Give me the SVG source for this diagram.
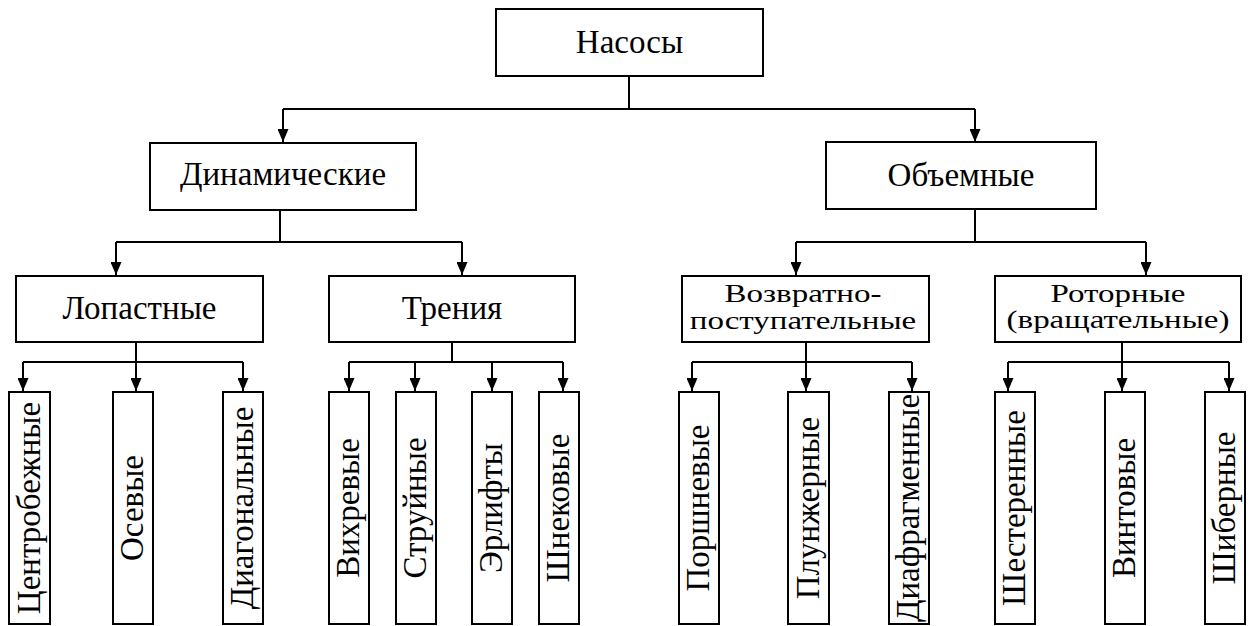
<svg xmlns="http://www.w3.org/2000/svg" width="1250" height="626" viewBox="0 0 1250 626">
<style>
.box{fill:#fff;stroke:#000;stroke-width:2}
.ln{fill:none;stroke:#000;stroke-width:2}
.ar{fill:none;stroke:#000;stroke-width:2;marker-end:url(#ah)}
text{font-family:'Times New Roman',Tinos,'Noto Serif','Liberation Serif','DejaVu Serif',serif;font-size:33px;fill:#000;text-anchor:middle}
</style>
<defs>
<marker id="ah" viewBox="0 0 13 11" refX="13" refY="5.5" markerWidth="13" markerHeight="11" markerUnits="userSpaceOnUse" orient="auto">
<path d="M0,0 L13,5.5 L0,11 z" fill="#000"/>
</marker>
</defs>
<rect width="1250" height="626" fill="#fff"/>
<g id="connectors">
<path class="ln" d="M629,76 V109 M283,109 H975"/>
<path class="ar" d="M283,109 V142"/>
<path class="ar" d="M975,109 V142"/>
<path class="ln" d="M280,210 V242 M116,242 H462"/>
<path class="ar" d="M116,242 V275"/>
<path class="ar" d="M462,242 V275"/>
<path class="ln" d="M975,209 V242 M796,242 H1146"/>
<path class="ar" d="M796,242 V275"/>
<path class="ar" d="M1146,242 V275"/>
<path class="ln" d="M136,342 V362 M23,362 H243"/>
<path class="ar" d="M23,362 V391"/>
<path class="ar" d="M136,362 V391"/>
<path class="ar" d="M243,362 V391"/>
<path class="ln" d="M452,342 V362 M349,362 H563"/>
<path class="ar" d="M349,362 V391"/>
<path class="ar" d="M415,362 V391"/>
<path class="ar" d="M492,362 V391"/>
<path class="ar" d="M563,362 V391"/>
<path class="ln" d="M806,342 V362 M692,362 H912"/>
<path class="ar" d="M692,362 V391"/>
<path class="ar" d="M806,362 V391"/>
<path class="ar" d="M912,362 V391"/>
<path class="ln" d="M1122,342 V362 M1008,362 H1229"/>
<path class="ar" d="M1008,362 V391"/>
<path class="ar" d="M1122,362 V391"/>
<path class="ar" d="M1229,362 V391"/>
</g>
<g id="n-nasosy"><rect class="box" x="496" y="9" width="267" height="67"/><text x="629.5" y="53">Насосы</text></g>
<g id="n-dinam"><rect class="box" x="150" y="143" width="266" height="67"/><text x="283" y="185">Динамические</text></g>
<g id="n-obem"><rect class="box" x="826" y="142" width="270" height="67"/><text x="961" y="186">Объемные</text></g>
<g id="n-lopast"><rect class="box" x="16" y="276" width="247" height="66"/><text x="139.5" y="319">Лопастные</text></g>
<g id="n-trenia"><rect class="box" x="329" y="276" width="246" height="66"/><text x="452" y="319">Трения</text></g>
<g id="n-vozvr"><rect class="box" x="682" y="276" width="247" height="66"/>
<text transform="translate(803,302) scale(1,0.78)">Возвратно-</text>
<text transform="translate(803,329) scale(1,0.78)">поступательные</text></g>
<g id="n-rotor"><rect class="box" x="995" y="276" width="246" height="66"/>
<text transform="translate(1118,302) scale(1,0.78)">Роторные</text>
<text transform="translate(1118,328) scale(1,0.78)">(вращательные)</text></g>
<g id="l-centr"><rect class="box" x="9" y="392" width="41" height="232"/><text transform="translate(40,508) rotate(-90)">Центробежные</text></g>
<g id="l-osev"><rect class="box" x="113" y="392" width="40" height="232"/><text transform="translate(143,508) rotate(-90)">Осевые</text></g>
<g id="l-diag"><rect class="box" x="223" y="392" width="40" height="232"/><text transform="translate(253,508) rotate(-90)">Диагональные</text></g>
<g id="l-vihr"><rect class="box" x="329" y="392" width="40" height="232"/><text transform="translate(359,508) rotate(-90)">Вихревые</text></g>
<g id="l-struy"><rect class="box" x="396" y="392" width="40" height="232"/><text transform="translate(426,508) rotate(-90)">Струйные</text></g>
<g id="l-erlift"><rect class="box" x="472" y="392" width="40" height="232"/><text transform="translate(502,508) rotate(-90)">Эрлифты</text></g>
<g id="l-shnek"><rect class="box" x="539" y="392" width="40" height="232"/><text transform="translate(569,508) rotate(-90)">Шнековые</text></g>
<g id="l-porsh"><rect class="box" x="679" y="392" width="40" height="232"/><text transform="translate(709,508) rotate(-90)">Поршневые</text></g>
<g id="l-plunzh"><rect class="box" x="788" y="392" width="41" height="232"/><text transform="translate(819,508) rotate(-90)">Плунжерные</text></g>
<g id="l-diafr"><rect class="box" x="889" y="392" width="40" height="232"/><text transform="translate(919,508) rotate(-90)">Диафрагменные</text></g>
<g id="l-shest"><rect class="box" x="995" y="392" width="40" height="232"/><text transform="translate(1025,508) rotate(-90)">Шестеренные</text></g>
<g id="l-vint"><rect class="box" x="1105" y="392" width="40" height="232"/><text transform="translate(1135,508) rotate(-90)">Винтовые</text></g>
<g id="l-shiber"><rect class="box" x="1205" y="392" width="40" height="232"/><text transform="translate(1235,508) rotate(-90)">Шиберные</text></g>
</svg>
